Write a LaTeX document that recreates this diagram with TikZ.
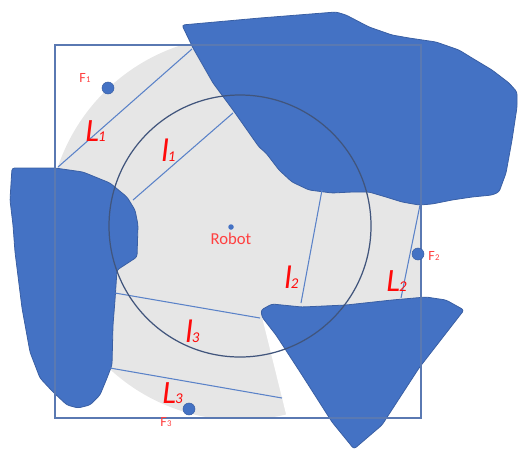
\documentclass[tikz,border=0pt]{standalone}
\usepackage{fontspec}
\setmainfont{Carlito}
\usepackage{tikz}
\usepackage{xcolor}
\definecolor{obstblue}{HTML}{4472C4}
\definecolor{obstedge}{HTML}{3A5FA3}
\definecolor{rangegray}{HTML}{E6E6E6}
\definecolor{framecol}{HTML}{5A79B2}
\definecolor{circcol}{HTML}{41557C}
\definecolor{beamblue}{HTML}{5A82C8}
\definecolor{labred}{HTML}{FF0A0A}
\definecolor{softred}{HTML}{FF4040}
\newcommand{\rangelab}[2]{\itshape #1\kern-0.5pt{\fontsize{8.5}{8.5}\selectfont #2}}
\newcommand{\featlab}[2]{#1\kern0.2pt{\fontsize{5}{5}\selectfont #2}}
\tikzset{
  obstacle/.style={fill=obstblue,draw=obstedge,line width=0.45pt,
                   rounded corners=1.5pt},
  beam/.style={draw=beamblue,line width=0.6pt},
  frame/.style={draw=framecol,line width=0.8pt},
  sensor/.style={draw=circcol,line width=0.7pt},
  featdot/.style={circle,fill=obstblue,draw=obstedge,line width=0.3pt,
                  inner sep=0pt,minimum size=0.24cm},
  robotdot/.style={circle,fill=obstblue,inner sep=0pt,minimum size=0.11cm},
  biglab/.style={text=labred,inner sep=0pt,anchor=base west,
                 font=\fontsize{18.5}{18.5}\selectfont},
  smalllab/.style={text=softred,inner sep=0pt,font=\fontsize{8}{8}\selectfont}
}
\begin{document}
\begin{tikzpicture}[x=0.02cm,y=-0.02cm]
    \path[use as bounding box] (0,0) rectangle (519,450);

    \begin{scope}
      \clip (55,45) rectangle (421,418);
      \fill[rangegray] (240,228) circle[radius=192];
    \end{scope}
    \fill[white] (262,317) -- (290,430) -- (400,430) -- (400,317) -- cycle;

    \draw[obstacle] (182,25) -- (260,18) -- (336,12) -- (346,15) -- (369,27)
      -- (392,35) -- (409,38) -- (436,42) -- (459,50) -- (472,58) -- (492,70)
      -- (509,83) -- (517,92) -- (517,107) -- (512,140) -- (506,173)
      -- (499,192) -- (492,195) -- (472,197) -- (452,200) -- (432,204)
      -- (419,205) -- (402,202) -- (386,197) -- (369,192) -- (352,192)
      -- (332,193) -- (309,190) -- (292,182) -- (279,170) -- (266,153)
      -- (259,147) -- (233,110) -- (213,83) -- (193,48) -- cycle;
    \draw[obstacle] (12,168) -- (55,168) -- (83,172) -- (110,183) -- (127,197)
      -- (135,210) -- (138,225) -- (137,257) -- (117,270) -- (115,300)
      -- (113,325) -- (112,365) -- (107,378) -- (100,395) -- (90,405)
      -- (78,408) -- (67,405) -- (53,392) -- (40,378) -- (30,352)
      -- (22,308) -- (15,252) -- (13,225) -- (10,200) -- cycle;
    \draw[obstacle] (261,310) -- (272,304) -- (302,307) -- (346,305)
      -- (392,300) -- (426,297) -- (446,300) -- (464,310) -- (419,368)
      -- (382,425) -- (354,449) -- (332,422) -- (302,375) -- (276,335)
      -- (262,317) -- cycle;

    \draw[beam] (58,167) -- (192,49);
    \draw[beam] (133,200) -- (233,113);
    \draw[beam] (322,190) -- (301,303);
    \draw[beam] (420,205) -- (401,298);
    \draw[beam] (115,293) -- (260,318);
    \draw[beam] (110,368) -- (282,398);

    \draw[frame] (55,45) rectangle (421,418);
    \draw[sensor] (240,226) circle[radius=131];

    \node[robotdot] (robot) at (231,227) {};
    \node[smalllab,anchor=base,font=\fontsize{9.5}{9.5}\selectfont]
      (robotlab) at (231,244) {Robot};

    \node[featdot] (f1) at (108,88) {};
    \node[featdot] (f2) at (418,254) {};
    \node[featdot] (f3) at (189,409) {};
    \node[smalllab] (f1lab) at (85,78) {\featlab{F}{1}};
    \node[smalllab] (f2lab) at (434,256) {\featlab{F}{2}};
    \node[smalllab] (f3lab) at (166,422) {\featlab{F}{3}};

    \node[biglab] (bigl1) at (85,141) {\rangelab{L}{1}};
    \node[biglab] (smalll1) at (161,161) {\rangelab{l}{1}};
    \node[biglab] (smalll2) at (284,288) {\rangelab{l}{2}};
    \node[biglab] (bigl2) at (386,291) {\rangelab{L}{2}};
    \node[biglab] (smalll3) at (185,342) {\rangelab{l}{3}};
    \node[biglab] (bigl3) at (162,403) {\rangelab{L}{3}};
  \end{tikzpicture}
\end{document}
